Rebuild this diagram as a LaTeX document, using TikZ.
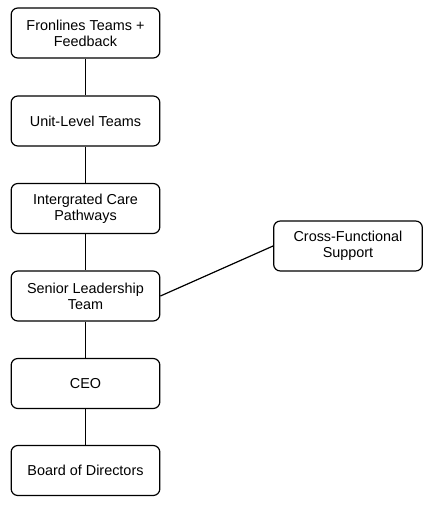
\documentclass[tikz,border=0pt]{standalone}
\usepackage{fontspec}
\setmainfont{Liberation Sans}
\begin{document}
\begin{tikzpicture}[x=0.75pt,y=-0.75pt,
  box/.style={draw, line width=0.9pt, rounded corners=5pt, minimum width=111.5pt, minimum height=37.5pt, inner sep=0pt, align=center, font=\fontsize{10.8}{12}\selectfont},
  link/.style={line width=0.9pt}]
\useasboundingbox (0,0) rectangle (433,506);
\node[box] (a) at (85.5,33) {Fronlines Teams +\\Feedback};
\node[box] (b) at (85.5,121) {Unit-Level Teams};
\node[box] (c) at (85.5,208.5) {Intergrated Care\\Pathways};
\node[box] (d) at (85.5,296) {Senior Leadership\\Team};
\node[box] (e) at (85.5,383.5) {CEO};
\node[box] (f) at (85.5,470.5) {Board of Directors};
\node[box] (g) at (348,246) {Cross-Functional\\Support};
\draw[link] (a) -- (b);
\draw[link] (b) -- (c);
\draw[link] (c) -- (d);
\draw[link] (d) -- (e);
\draw[link] (e) -- (f);
\draw[link] (d.east) -- (g.west);
\end{tikzpicture}
\end{document}
